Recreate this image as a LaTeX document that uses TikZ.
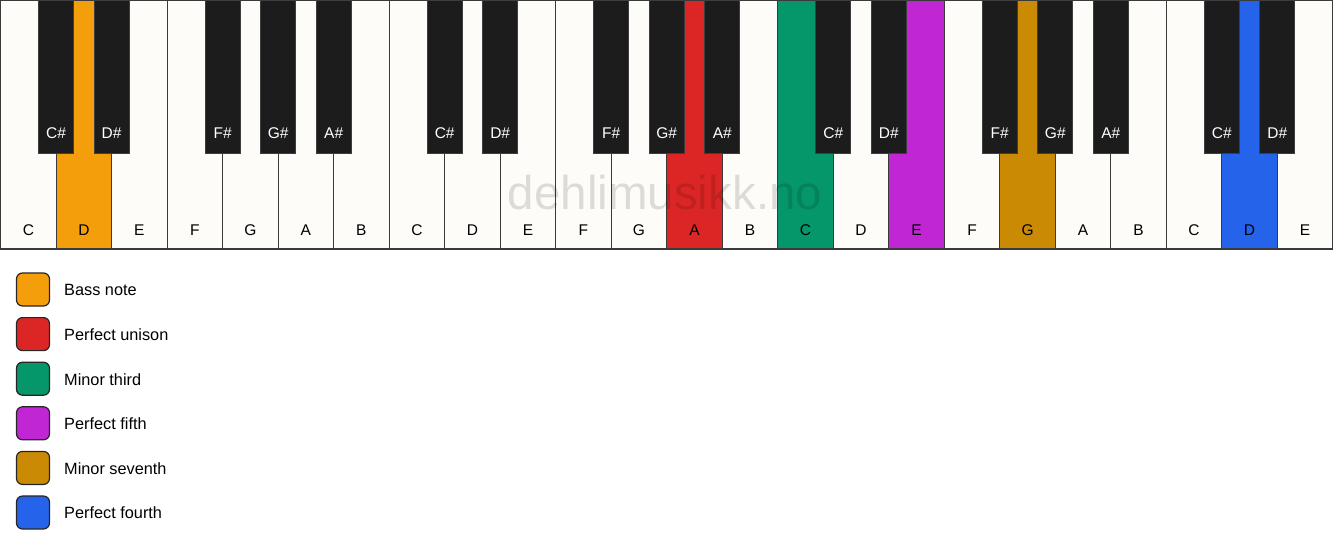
\documentclass[tikz,border=0pt]{standalone}
\usepackage{fontspec}
\setmainfont{Liberation Sans}
\definecolor{keywhite}{HTML}{FDFCF9}
\definecolor{keyblack}{HTML}{1C1C1C}
\definecolor{keyedge}{HTML}{3A3A3A}
\definecolor{cbass}{HTML}{F59E0B}
\definecolor{cunison}{HTML}{DC2626}
\definecolor{cthird}{HTML}{059669}
\definecolor{cfifth}{HTML}{C026D3}
\definecolor{cseventh}{HTML}{CA8A04}
\definecolor{cfourth}{HTML}{2563EB}
\tikzset{
  whitekey/.style={draw=keyedge, line width=1.2pt, inner sep=0pt, outer sep=0pt,
    minimum width=55.54pt, minimum height=249pt, anchor=north west},
  blackkey/.style={draw=keyblack!85!white, fill=keyblack, line width=0.8pt, inner sep=0pt, outer sep=0pt,
    minimum width=35pt, minimum height=153pt, anchor=north},
  wlabel/.style={font=\fontsize{15.5}{18}\selectfont, text=black, inner sep=0pt},
  blabel/.style={font=\fontsize{15.5}{18}\selectfont, text=white, inner sep=0pt},
  legbox/.style={draw=black!85, line width=1.2pt, rounded corners=6pt, minimum size=33pt, inner sep=0pt},
  legtext/.style={font=\fontsize{16.3}{19}\selectfont, anchor=west, inner sep=0pt},
  watermark/.style={font=\fontsize{47.5}{50}\selectfont, text=black, text opacity=0.13, inner sep=0pt, anchor=base}
}
\begin{document}
\begin{tikzpicture}[x=1pt,y=-1pt]
\useasboundingbox[fill=white] (0,0) rectangle (1333,550);
% white keys
\foreach \n/\c [count=\i from 0] in {C/keywhite,D/cbass,E/keywhite,F/keywhite,G/keywhite,A/keywhite,B/keywhite,
  C/keywhite,D/keywhite,E/keywhite,F/keywhite,G/keywhite,A/cunison,B/keywhite,
  C/cthird,D/keywhite,E/cfifth,F/keywhite,G/cseventh,A/keywhite,B/keywhite,
  C/keywhite,D/cfourth,E/keywhite}{
  \node[whitekey, fill=\c] (w\i) at ({0.6+\i*55.51},0) {};
  \node[wlabel] (wl\i) at ({0.6+(\i+0.5)*55.51},230.5) {\n};
}
% watermark
\node[watermark] (wm) at (665,209) {dehlimusikk.no};
% black keys
\foreach \k/\n in {1/C,2/D,4/F,5/G,6/A,8/C,9/D,11/F,12/G,13/A,15/C,16/D,18/F,19/G,20/A,22/C,23/D}{
  \node[blackkey] (b\k) at ({0.6+\k*55.51},0) {};
  \node[blabel] (bl\k) at ({0.6+\k*55.51},133) {\n\#};
}
% legend
\foreach \c/\t [count=\i from 0] in {cbass/Bass note,cunison/Perfect unison,cthird/Minor third,
  cfifth/Perfect fifth,cseventh/Minor seventh,cfourth/Perfect fourth}{
  \node[legbox, fill=\c] (lg\i) at (33,{289.5+44.6*\i}) {};
  \node[legtext] (lt\i) at (64,{290+44.6*\i}) {\t};
}
\end{tikzpicture}
\end{document}
